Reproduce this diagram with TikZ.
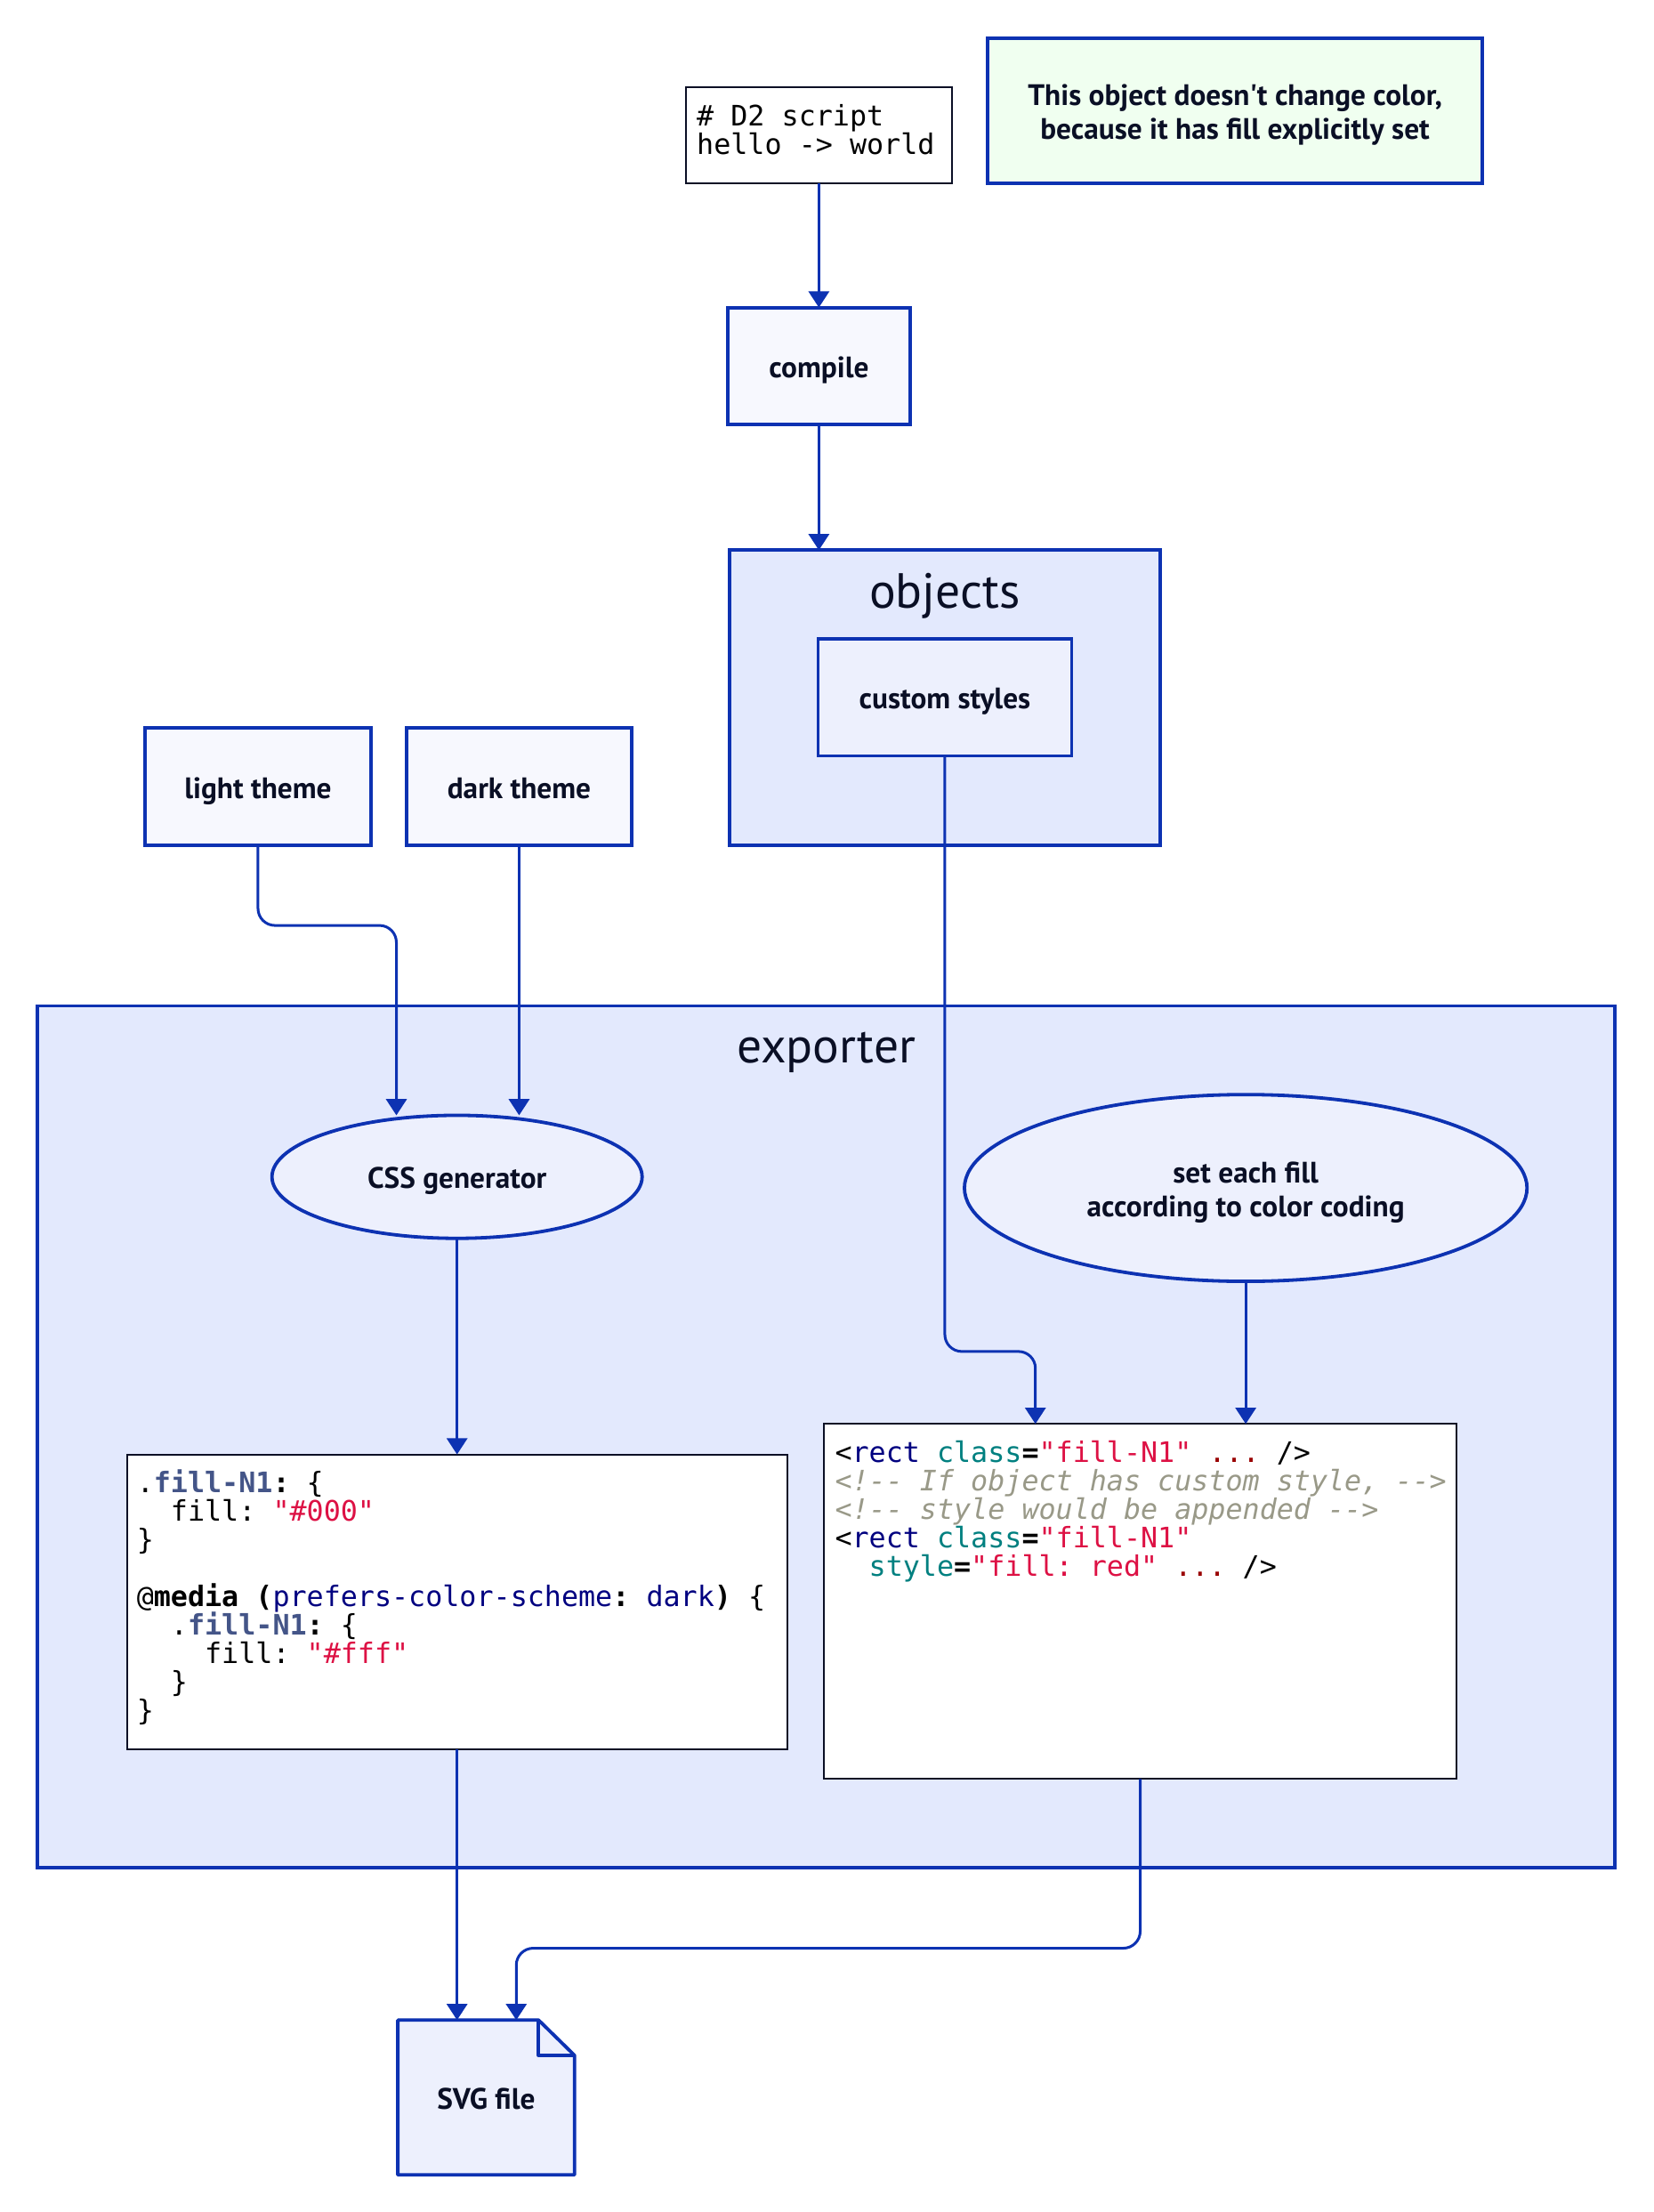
\documentclass[tikz,border=0pt]{standalone}
\usepackage{fontspec}
\setmainfont{PT Sans}
\setmonofont{DejaVu Sans Mono}
\usetikzlibrary{arrows.meta,shapes.geometric}
\definecolor{dblue}{HTML}{0D32B2}
\definecolor{bfour}{HTML}{E3E9FD}
\definecolor{bfive}{HTML}{EDF0FD}
\definecolor{bsix}{HTML}{F7F8FE}
\definecolor{ntext}{HTML}{0A0F25}
\definecolor{honey}{HTML}{F0FFF0}
\definecolor{cslate}{HTML}{445588}
\definecolor{cred}{HTML}{DD1144}
\definecolor{cnavy}{HTML}{000080}
\definecolor{cteal}{HTML}{008080}
\definecolor{cgray}{HTML}{999988}
\definecolor{cdred}{HTML}{990000}
\newcommand{\dlbl}{\fontsize{21}{24}\selectfont\bfseries}
\newcommand{\dcont}{\fontsize{35}{40}\selectfont}
\newcommand{\dcode}{\fontsize{20}{20.2}\selectfont\ttfamily}
\newcommand{\dtop}{\rule{0pt}{21.8pt}}
\newcommand{\dbot}{\rule[-5.25pt]{0pt}{5.25pt}}
\newcommand{\tslate}[1]{\textcolor{cslate}{\textbf{#1}}}
\newcommand{\tred}[1]{\textcolor{cred}{#1}}
\newcommand{\tnavy}[1]{\textcolor{cnavy}{#1}}
\newcommand{\tteal}[1]{\textcolor{cteal}{#1}}
\newcommand{\tgray}[1]{\textcolor{cgray}{\itshape #1}}
\newcommand{\tdred}[1]{\textcolor{cdred}{#1}}
\tikzset{
  every node/.style={outer sep=0pt},
  contbox/.style={rectangle, draw=dblue, line width=2.4pt, fill=bfour, inner sep=0pt},
  contlabel/.style={font=\dcont, text=ntext, inner sep=0pt},
  shapebox/.style={rectangle, draw=dblue, line width=2.4pt, fill=bsix, text=ntext, font=\dlbl, inner sep=0pt},
  ell/.style={ellipse, draw=dblue, line width=2.4pt, fill=bfive, text=ntext, font=\dlbl, inner sep=0pt},
  codebox/.style={rectangle, draw=ntext, line width=1.3pt, fill=white, inner sep=0pt},
  codetext/.style={font=\dcode, text=black, inner sep=0pt, anchor=base west},
  lbl/.style={font=\dlbl, text=ntext, inner sep=0pt},
  conn/.style={draw=dblue, line width=1.9pt, rounded corners=12pt, -{Triangle[length=11.5pt,width=14.5pt]}}
}
\begin{document}
\begin{tikzpicture}[x=1pt,y=-1pt]
\useasboundingbox[fill=white] (0,0) rectangle (1172,1568);

% containers
\node[contbox, minimum width=305.5pt, minimum height=209pt] (objects) at (669.75,494.5) {};
\node[contlabel, anchor=base] (objlbl) at (669.75,431) {objects};
\node[contbox, minimum width=1118.5pt, minimum height=611pt] (exporter) at (585.75,1018.5) {};
\node[contlabel, anchor=base] (explbl) at (585.75,753.5) {exporter};

% top code block
\node[codebox, minimum width=189pt, minimum height=68pt] (script) at (580.5,96) {};
\node[codetext] (scr1) at ([xshift=8pt,yshift=-27pt]script.north west) {\# D2 script};
\node[codetext] (scr2) at ([yshift=-20.2pt]scr1.base west) {hello -> world};

% note
\node[shapebox, fill=honey, minimum width=351pt, minimum height=103pt, align=center] (note) at (875.5,78.5)
  {\dtop This object doesn\textquotesingle t change color,\\\dbot because it has fill explicitly set};

% shapes
\node[shapebox, minimum width=129pt, minimum height=83pt] (compile) at (580.5,259.5) {\dtop\dbot compile};
\node[shapebox, fill=bfive, minimum width=179.7pt, minimum height=82.7pt] (custom) at (669.8,494.4) {\dtop\dbot custom styles};
\node[shapebox, minimum width=159.8pt, minimum height=83pt] (light) at (182.9,557.5) {\dtop\dbot light theme};
\node[shapebox, minimum width=160pt, minimum height=83pt] (dark) at (368,557.5) {\dtop\dbot dark theme};

\node[ell, minimum width=262.4pt, minimum height=87.2pt] (cssgen) at (324,834.2) {\dtop\dbot CSS generator};
\node[ell, minimum width=398.8pt, minimum height=132.4pt, align=center] (setfill) at (883.1,842.1)
  {\dtop set each fill\\\dbot according to color coding};

% CSS code block
\node[codebox, minimum width=468pt, minimum height=209pt] (csscode) at (324,1135.5) {};
\node[codetext] (c1) at ([xshift=7pt,yshift=-27pt]csscode.north west) {.\tslate{fill-N1}\textbf{:} \{};
\node[codetext] (c2) at ([yshift=-20.2pt]c1.base west) {\phantom{xx}fill: \tred{"\#000"}};
\node[codetext] (c3) at ([yshift=-20.2pt]c2.base west) {\}};
\node[codetext] (c5) at ([yshift=-40.4pt]c3.base west) {@\textbf{media} \textbf{(}\tnavy{prefers-color-scheme}\textbf{:} \tnavy{dark}\textbf{)} \{};
\node[codetext] (c6) at ([yshift=-20.2pt]c5.base west) {\phantom{xx}.\tslate{fill-N1}\textbf{:} \{};
\node[codetext] (c7) at ([yshift=-20.2pt]c6.base west) {\phantom{xxxx}fill: \tred{"\#fff"}};
\node[codetext] (c8) at ([yshift=-20.2pt]c7.base west) {\phantom{xx}\}};
\node[codetext] (c9) at ([yshift=-20.2pt]c8.base west) {\}};

% HTML code block
\node[codebox, minimum width=448.7pt, minimum height=251.7pt] (html) at (808.3,1135.2) {};
\node[codetext] (h1) at ([xshift=8pt,yshift=-27pt]html.north west) {<\tnavy{rect} \tteal{class}\textbf{=}\tred{"fill-N1"} \tdred{...} />};
\node[codetext] (h2) at ([yshift=-20.2pt]h1.base west) {\tgray{<!-{}- If object has custom style, -{}->}};
\node[codetext] (h3) at ([yshift=-20.2pt]h2.base west) {\tgray{<!-{}- style would be appended -{}->}};
\node[codetext] (h4) at ([yshift=-20.2pt]h3.base west) {<\tnavy{rect} \tteal{class}\textbf{=}\tred{"fill-N1"}};
\node[codetext] (h5) at ([yshift=-20.2pt]h4.base west) {\phantom{xx}\tteal{style}\textbf{=}\tred{"fill: red"} \tdred{...} />};

% SVG file page
\node[minimum width=125.3pt, minimum height=109.7pt, inner sep=0pt] (svg) at (344.65,1486.8) {};
\filldraw[draw=dblue, fill=bfive, line width=2.4pt, line join=round]
  (svg.south west) -- (svg.north west) -- ([xshift=-25.5pt]svg.north east)
  -- ([yshift=-25pt]svg.north east) -- (svg.south east) -- cycle;
\draw[draw=dblue, line width=2.4pt, line join=round]
  ([xshift=-25.5pt]svg.north east) -- ([xshift=-25.5pt,yshift=-25pt]svg.north east) -- ([yshift=-25pt]svg.north east);
\node[lbl] (svglbl) at (svg.center) {\dtop\dbot SVG file};

% bend coordinates
\coordinate (lbend) at (230,656);
\coordinate (cbend) at (700,958);
\coordinate (hbend) at (600,1381);

% connectors
\draw[conn] (script.south) -- (compile.north);
\draw[conn] (compile.south) -- ([xshift=-89.25pt]objects.north);
\draw[conn] (light.south) -- (light.south |- lbend) -| ([xshift=-43pt]cssgen.north);
\draw[conn] (dark.south) -- ([xshift=44pt]cssgen.north);
\draw[conn] (custom.south) -- (custom.south |- cbend) -| ([xshift=-74.3pt]html.north);
\draw[conn] (setfill.south) -- ([xshift=74.8pt]html.north);
\draw[conn] (cssgen.south) -- (csscode.north);
\draw[conn] (csscode.south) -- ([xshift=-20.65pt]svg.north);
\draw[conn] (html.south) -- (html.south |- hbend) -| ([xshift=21.35pt]svg.north);
\end{tikzpicture}
\end{document}
